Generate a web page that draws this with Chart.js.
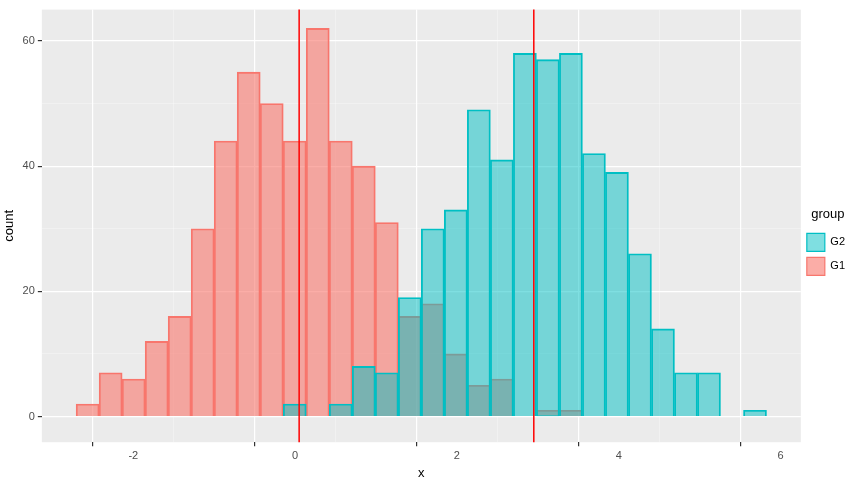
<!DOCTYPE html>
<html>
<head>
<meta charset="utf-8">
<script src="https://cdn.jsdelivr.net/npm/chart.js@4"></script>
<style>
  body { margin: 0; background: #fff; }
  #wrap { width: 855px; height: 483px; }
</style>
</head>
<body>
<div id="wrap"><canvas id="grafico"></canvas></div>
<script>
// --- datos ---
const binStart = -2.706;
const binWidth = 0.2844;
const countsG1 = [2, 7, 6, 12, 16, 30, 44, 55, 50, 44, 62, 44, 40, 31, 16, 18, 10, 5, 6, 0, 1, 1, 0, 0, 0, 0, 0, 0, 0, 0];
const countsG2 = [0, 0, 0, 0, 0, 0, 0, 0, 0, 2, 0, 2, 8, 7, 19, 30, 33, 49, 41, 58, 57, 58, 42, 39, 26, 14, 7, 7, 0, 1];
const meanLines = [0.05, 2.95];
const xTicks = [-2, 0, 2, 4, 6];
const yTicks = [0, 20, 40, 60];

const centers = countsG1.map((_, i) => binStart + binWidth * (i + 0.5));
const toPoints = arr => arr.map((v, i) => ({ x: centers[i], y: v }));
const esMayor = (c, lista) => !!(c.tick && lista.includes(c.tick.value));

const fondoPanel = {
  id: "fondoPanel",
  beforeDraw(chart) {
    const { ctx, chartArea: a } = chart;
    ctx.save();
    ctx.fillStyle = "#EBEBEB";
    ctx.fillRect(a.left, a.top, a.right - a.left, a.bottom - a.top);
    ctx.restore();
  },
  afterDatasetsDraw(chart) {
    const { ctx, chartArea: a, scales } = chart;
    ctx.save();
    ctx.strokeStyle = "#FF0000";
    ctx.lineWidth = 1.5;
    meanLines.forEach(m => {
      const px = scales.x.getPixelForValue(m);
      ctx.beginPath();
      ctx.moveTo(px, a.top);
      ctx.lineTo(px, a.bottom);
      ctx.stroke();
    });
    ctx.restore();
  }
};

new Chart(document.getElementById("grafico"), {
  type: "bar",
  data: {
    datasets: [
      {
        label: "G1",
        data: toPoints(countsG1),
        backgroundColor: "rgba(248,118,109,0.6)",
        borderColor: "#F8766D",
        borderWidth: 1.2,
        order: 2
      },
      {
        label: "G2",
        data: toPoints(countsG2),
        backgroundColor: "rgba(0,191,196,0.5)",
        borderColor: "#00BFC4",
        borderWidth: 1.2,
        order: 1
      }
    ]
  },
  options: {
    responsive: true,
    maintainAspectRatio: false,
    animation: false,
    grouped: false,
    barPercentage: 1,
    categoryPercentage: 1,
    layout: { padding: { top: 8, right: 0, left: 0, bottom: 2 } },
    plugins: {
      legend: {
        position: "right",
        title: { display: true, text: "group", color: "#000", font: { size: 13, family: "Liberation Sans" }, padding: { top: 0, bottom: 4 } },
        labels: {
          boxWidth: 18, boxHeight: 18, color: "#000", padding: 6,
          font: { size: 11, family: "Liberation Sans" }
        }
      },
      tooltip: { enabled: false }
    },
    scales: {
      x: {
        type: "linear",
        min: -3.13, max: 6.25,
        offset: false,
        afterBuildTicks: s => { s.ticks = []; for (let v = -3; v <= 6; v++) s.ticks.push({ value: v }); },
        ticks: {
          color: "#4D4D4D", font: { size: 11, family: "Liberation Sans" },
          callback: v => xTicks.includes(v) ? v : ""
        },
        grid: {
          color: c => esMayor(c, xTicks) ? "#FFFFFF" : "rgba(255,255,255,0.5)",
          lineWidth: c => esMayor(c, xTicks) ? 1.2 : 0.6,
          tickColor: c => esMayor(c, xTicks) ? "#333" : "rgba(0,0,0,0)",
          tickLength: 4
        },
        border: { display: false },
        title: { display: true, text: "x", color: "#000", font: { size: 13, family: "Liberation Sans" }, padding: 0 }
      },
      y: {
        min: -4.1, max: 65,
        afterBuildTicks: s => { s.ticks = []; for (let v = 0; v <= 60; v += 10) s.ticks.push({ value: v }); },
        ticks: {
          color: "#4D4D4D", font: { size: 11, family: "Liberation Sans" },
          callback: v => yTicks.includes(v) ? v : ""
        },
        grid: {
          color: c => esMayor(c, yTicks) ? "#FFFFFF" : "rgba(255,255,255,0.5)",
          lineWidth: c => esMayor(c, yTicks) ? 1.2 : 0.6,
          tickColor: c => esMayor(c, yTicks) ? "#333" : "rgba(0,0,0,0)",
          tickLength: 4
        },
        border: { display: false },
        title: { display: true, text: "count", color: "#000", font: { size: 13, family: "Liberation Sans" }, padding: 2 }
      }
    }
  },
  plugins: [fondoPanel]
});
</script>
</body>
</html>
